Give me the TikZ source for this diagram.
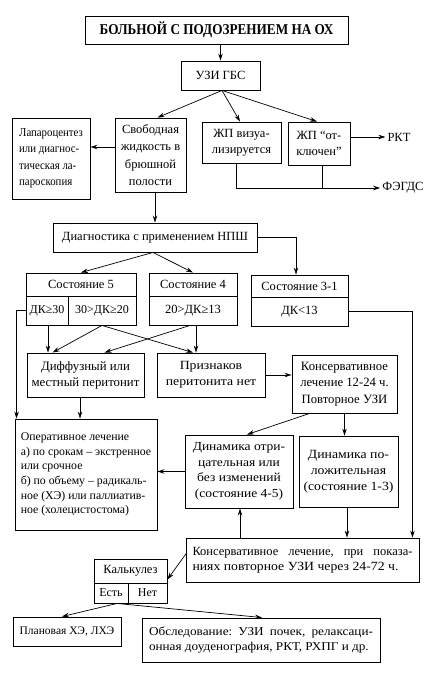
\documentclass[tikz,border=0pt]{standalone}
\usepackage{fontspec}
\setmainfont{Liberation Serif}
\newfontfamily\fw[FakeStretch=1.1]{Liberation Serif}
\newfontfamily\fn[FakeStretch=0.9]{Liberation Serif}
\newfontfamily\ft[FakeStretch=0.88]{Liberation Serif}
\usetikzlibrary{arrows.meta,calc}
\newcommand\fsz[2]{\fontsize{#1}{#2}\selectfont}
\begin{document}
\begin{tikzpicture}[x=1pt,y=-1pt,
 box/.style={draw,line width=0.9pt,inner sep=1pt,align=center,font=\fsz{12.5}{16}},
 arr/.style={-{Stealth[length=7pt,width=4.5pt]},line width=0.7pt},
 ln/.style={line width=0.7pt}]
\useasboundingbox[fill=white] (0,0) rectangle (430,682);

\node[box,minimum width=263pt,minimum height=28pt,font=\ft\bfseries\fsz{15}{17}] (top) at (216.5,30) {БОЛЬНОЙ С ПОДОЗРЕНИЕМ НА ОХ};
\node[box,minimum width=79pt,minimum height=29pt] (uzi) at (220.5,75.5) {УЗИ ГБС};
\node[box,minimum width=78pt,minimum height=81pt,align=left,font=\fn\fsz{12}{16.5}] (lap) at (51,158.5) {Лапароцентез\\или диагнос-\\тическая ла-\\пароскопия};
\node[box,minimum width=71pt,minimum height=74pt,font=\fsz{12.5}{17.5}] (svob) at (150.5,155) {Свободная\\жидкость в\\брюшной\\полости};
\node[box,minimum width=79pt,minimum height=41pt] (zhpv) at (241.5,142.5) {ЖП визуа-\\лизируется};
\node[box,minimum width=62pt,minimum height=43pt] (zhpo) at (319,143.5) {ЖП “от-\\ключен”};
\node[font=\fsz{12.5}{15},inner sep=2pt] (rkt) at (399,137) {РКТ};
\node[font=\fsz{12.5}{15},inner sep=2pt] (fegds) at (403,188) {ФЭГДС};
\node[box,minimum width=204pt,minimum height=29pt] (diag) at (155,237.5) {Диагностика с применением НПШ};

\node[box,minimum width=110pt,minimum height=23pt] (s5h) at (81,284.5) {Состояние 5};
\node[box,minimum width=42pt,minimum height=29pt,inner sep=0pt,font=\fsz{12}{14}] (s5a) at (47,310.5) {ДК≥30};
\node[box,minimum width=68pt,minimum height=29pt,inner sep=0pt,font=\fsz{12}{14}] (s5b) at (102,310.5) {30>ДК≥20};
\node[box,minimum width=88pt,minimum height=23pt] (s4h) at (193,284.5) {Состояние 4};
\node[box,minimum width=88pt,minimum height=29pt] (s4a) at (193,310.5) {20>ДК≥13};
\node[box,minimum width=97pt,minimum height=22pt] (s3h) at (299.5,286) {Состояние 3-1};
\node[box,minimum width=97pt,minimum height=29pt] (s3a) at (299.5,311.5) {ДК<13};

\node[box,minimum width=117pt,minimum height=44pt,font=\fsz{12.8}{16}] (diff) at (85.5,375) {Диффузный или\\местный перитонит};
\node[box,minimum width=108pt,minimum height=44pt,font=\fw\fsz{12.5}{16}] (priz) at (211,375) {Признаков\\перитонита нет};
\node[box,minimum width=105pt,minimum height=58pt,font=\fsz{12.7}{16.5}] (kons1) at (344.5,384) {Консервативное\\лечение 12-24 ч.\\Повторное УЗИ};

\node[box,minimum width=142pt,minimum height=111pt,align=left,font=\fsz{11.8}{14.7}] (oper) at (86,474.5) {Оперативное лечение\\а) по срокам – экстренное\\или срочное\\б) по объему – радикаль-\\ное (ХЭ) или паллиатив-\\ное (холецистостома)};
\node[box,minimum width=108pt,minimum height=73pt,font=\fw\fsz{12.3}{15.5}] (dneg) at (239,471.5) {Динамика отри-\\цательная или\\без изменений\\(состояние 4-5)};
\node[box,minimum width=99pt,minimum height=71pt,font=\fw\fsz{12.5}{16}] (dpos) at (348.5,471.5) {Динамика по-\\ложительная\\(состояние 1-3)};

\node[box,minimum width=233pt,minimum height=44pt,align=left,font=\fsz{12.5}{15}] (kons2) at (302.5,560) {\hbox to 220pt{Консервативное\hfill лечение,\hfill при\hfill показа-}\\{\fw ниях повторное УЗИ через 24-72 ч.}};

\node[box,minimum width=73pt,minimum height=24pt] (kalkh) at (130.5,571) {Калькулез};
\node[box,minimum width=34pt,minimum height=20pt,inner sep=0pt,font=\fsz{12}{14}] (kalka) at (111,593) {Есть};
\node[box,minimum width=39pt,minimum height=20pt,inner sep=0pt,font=\fsz{12}{14}] (kalkb) at (147.5,593) {Нет};

\node[box,minimum width=108pt,minimum height=29pt,font=\fsz{11.5}{13}] (plan) at (67,631.5) {Плановая ХЭ, ЛХЭ};
\node[box,minimum width=238pt,minimum height=44pt,align=left,font=\fw\fsz{12}{15}] (obsl) at (261,640) {\hbox to 224pt{Обследование:\hfill УЗИ\hfill почек,\hfill релаксаци-}\\онная доуденография, РКТ, РХПГ и др.};

% helper coordinates
\coordinate (uzis) at ($(uzi.south)+(1.5,0)$);
\coordinate (zvs) at ($(zhpv.south)+(-5.5,0)$);
\coordinate (zos) at ($(zhpo.south)+(3,0)$);
\coordinate (svs) at ($(svob.south)+(4.5,0)$);
\coordinate (dgs) at ($(diag.south)+(-2,0)$);
\coordinate (s5as) at ($(s5a.south)+(1,0)$);
\coordinate (s4l) at ($(s4a.south)+(-3,0)$);
\coordinate (s4r) at ($(s4a.south)+(3,0)$);
\coordinate (dfs) at ($(diff.south)+(-5.5,0)$);
\coordinate (opl) at ($(oper.north west)+(2,0)$);
\coordinate (k1l) at ($(kons1.south west)+(18,0)$);
\coordinate (dps) at ($(dpos.south)+(-1.5,0)$);
\coordinate (dns) at ($(dneg.south)+(1,0)$);
\coordinate (k2r) at ($(kons2.north east)+(-7,0)$);
\coordinate (k2l) at ($(kons2.west)+(1,-7)$);
\coordinate (kas) at ($(kalka.south)+(6,0)$);

% connectors
\draw[arr] (uzi.north |- top.south) -- (uzi.north);
\draw[arr] (uzis) -- ($(svob.north)+(7,0)$);
\draw[arr] (uzis) -- ($(zhpv.north)+(-1.5,0)$);
\draw[arr] (uzis) -- ($(zhpo.north)+(-2,0)$);
\draw[arr] ($(svob.west)+(0,-8)$) -- ($(lap.east)+(0,-11.5)$);
\draw[arr] (zhpo.east |- rkt.west) -- (rkt.west);
\draw[arr] (zvs) |- (fegds.west);
\draw[ln] (zos) -- (zos |- fegds.west);
\draw[arr] (svs) -- (svs |- diag.north);
\draw[arr] (diag.east) -| ($(s3h.north)+(-3.5,0)$);
\draw[arr] (dgs) -- (s5h.north);
\draw[arr] (dgs) -- (s4h.north);

\draw[arr] (s5a.west) -| (opl);
\draw[arr] (s5as) -- (s5as |- diff.north);
\draw[arr] (s5b.south) -- ($(diff.north west)+(26,0)$);
\draw[arr] (s5b.south) -- ($(priz.north)+(-18,0)$);
\draw[arr] (s4l) -- ($(diff.north west)+(78,0)$);
\draw[arr] (s4r) -- (s4r |- priz.north);

\draw[arr] (dfs) -- (dfs |- oper.north);
\draw[arr] (priz.east) -- (priz.east -| kons1.west);
\draw[arr] (k1l) -- ($(dneg.north)+(8,0)$);
\draw[arr] (kons1.south) -- (kons1.south |- dpos.north);
\draw[arr] (dneg.west) -- (dneg.west -| oper.east);
\draw[arr] (dps) -- (dps |- kons2.north);
\draw[arr] (s3a.east) -| (k2r);
\draw[arr] (dns |- kons2.north) -- (dns);
\draw[arr] (k2l) -- ($(kalkh.south east)+(0,-4)$);
\draw[arr] (kas) -- ($(plan.north)+(-5,0)$);
\draw[arr] (kas) -- ($(obsl.north)+(1,0)$);
\end{tikzpicture}
\end{document}
